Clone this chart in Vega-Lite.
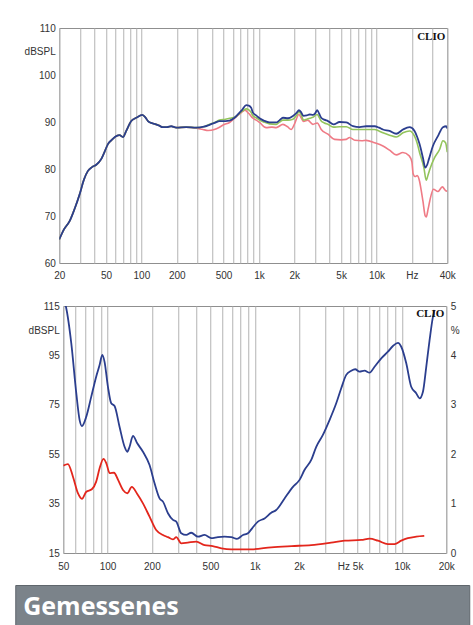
{
  "$schema": "https://vega.github.io/schema/vega-lite/v6.json",
  "background": "white",
  "padding": {"left": 14, "top": 22, "right": 0, "bottom": 0},
  "config": {
    "view": {"stroke": "#8f8f8f", "strokeWidth": 1},
    "axis": {"labelFont": "Liberation Sans", "labelFontSize": 10, "labelColor": "#333333", "gridColor": "#b3b3b3", "gridWidth": 1, "gridOpacity": 1, "domain": false, "ticks": false, "title": null, "labelOverlap": false, "labelFlush": false}
  },
  "datasets": {
    "top": [
      {"s": "blue", "f": 20, "v": 65.0}, {"s": "blue", "f": 22, "v": 67.2}, {"s": "blue", "f": 24.5, "v": 68.9}, {"s": "blue", "f": 27, "v": 71.5}, {"s": "blue", "f": 29.8, "v": 74.6}, {"s": "blue", "f": 32.5, "v": 77.8}, {"s": "blue", "f": 35.1, "v": 79.6}, {"s": "blue", "f": 38, "v": 80.4}, {"s": "blue", "f": 41.3, "v": 80.9}, {"s": "blue", "f": 45.5, "v": 82.1}, {"s": "blue", "f": 48.5, "v": 83.6}, {"s": "blue", "f": 51.9, "v": 85.3}, {"s": "blue", "f": 56, "v": 86.2}, {"s": "blue", "f": 61.1, "v": 87.0}, {"s": "blue", "f": 65.2, "v": 87.2}, {"s": "blue", "f": 69.7, "v": 86.8}, {"s": "blue", "f": 74.3, "v": 88.1}, {"s": "blue", "f": 82, "v": 90.2}, {"s": "blue", "f": 90.4, "v": 90.9}, {"s": "blue", "f": 101.7, "v": 91.5}, {"s": "blue", "f": 108, "v": 91.0}, {"s": "blue", "f": 113.7, "v": 90.2}, {"s": "blue", "f": 121, "v": 89.8}, {"s": "blue", "f": 129.4, "v": 89.6}, {"s": "blue", "f": 140, "v": 89.3}, {"s": "blue", "f": 152, "v": 88.9}, {"s": "blue", "f": 165, "v": 88.9}, {"s": "blue", "f": 179, "v": 89.1}, {"s": "blue", "f": 198, "v": 88.8}, {"s": "blue", "f": 240, "v": 88.9}, {"s": "blue", "f": 292.9, "v": 88.8},
      {"s": "blue", "f": 340, "v": 89.0}, {"s": "blue", "f": 380, "v": 89.4}, {"s": "blue", "f": 420, "v": 89.8}, {"s": "blue", "f": 462, "v": 90.2}, {"s": "blue", "f": 520, "v": 90.2}, {"s": "blue", "f": 562, "v": 90.3}, {"s": "blue", "f": 620, "v": 90.9}, {"s": "blue", "f": 662, "v": 91.6}, {"s": "blue", "f": 720, "v": 92.6}, {"s": "blue", "f": 780, "v": 93.6}, {"s": "blue", "f": 820, "v": 93.5}, {"s": "blue", "f": 860, "v": 93.0}, {"s": "blue", "f": 889, "v": 92.0}, {"s": "blue", "f": 948, "v": 91.4}, {"s": "blue", "f": 1012, "v": 90.8}, {"s": "blue", "f": 1100, "v": 90.3}, {"s": "blue", "f": 1230, "v": 89.9}, {"s": "blue", "f": 1403, "v": 89.9}, {"s": "blue", "f": 1500, "v": 90.4}, {"s": "blue", "f": 1600, "v": 90.9}, {"s": "blue", "f": 1766, "v": 90.8}, {"s": "blue", "f": 1946, "v": 91.3}, {"s": "blue", "f": 2100, "v": 92.0}, {"s": "blue", "f": 2188, "v": 92.5}, {"s": "blue", "f": 2280, "v": 92.1}, {"s": "blue", "f": 2394, "v": 91.3}, {"s": "blue", "f": 2550, "v": 91.4}, {"s": "blue", "f": 2696, "v": 91.6}, {"s": "blue", "f": 2878, "v": 91.5}, {"s": "blue", "f": 3000, "v": 91.8}, {"s": "blue", "f": 3133, "v": 92.5}, {"s": "blue", "f": 3250, "v": 91.8}, {"s": "blue", "f": 3388, "v": 90.9}, {"s": "blue", "f": 3600, "v": 90.5}, {"s": "blue", "f": 3862, "v": 90.2}, {"s": "blue", "f": 4315, "v": 89.5}, {"s": "blue", "f": 4853, "v": 90.0}, {"s": "blue", "f": 5535, "v": 89.9}, {"s": "blue", "f": 6311, "v": 89.1}, {"s": "blue", "f": 7185, "v": 88.9}, {"s": "blue", "f": 8185, "v": 89.1}, {"s": "blue", "f": 9638, "v": 89.1}, {"s": "blue", "f": 10500, "v": 88.8}, {"s": "blue", "f": 11350, "v": 88.4}, {"s": "blue", "f": 12920, "v": 88.1}, {"s": "blue", "f": 14730, "v": 87.5}, {"s": "blue", "f": 16790, "v": 88.4}, {"s": "blue", "f": 19100, "v": 88.9}, {"s": "blue", "f": 21080, "v": 88.1}, {"s": "blue", "f": 22200, "v": 86.8}, {"s": "blue", "f": 23250, "v": 85.3}, {"s": "blue", "f": 24830, "v": 82.4}, {"s": "blue", "f": 26000, "v": 80.3}, {"s": "blue", "f": 27000, "v": 80.9}, {"s": "blue", "f": 27920, "v": 82.1}, {"s": "blue", "f": 30200, "v": 84.9}, {"s": "blue", "f": 33320, "v": 87.0}, {"s": "blue", "f": 36750, "v": 88.9}, {"s": "blue", "f": 39250, "v": 89.1}, {"s": "blue", "f": 40000, "v": 88.6},
      {"s": "green", "f": 20, "v": 65.0}, {"s": "green", "f": 22, "v": 67.2}, {"s": "green", "f": 24.5, "v": 68.9}, {"s": "green", "f": 27, "v": 71.5}, {"s": "green", "f": 29.8, "v": 74.6}, {"s": "green", "f": 32.5, "v": 77.8}, {"s": "green", "f": 35.1, "v": 79.6}, {"s": "green", "f": 38, "v": 80.4}, {"s": "green", "f": 41.3, "v": 80.9}, {"s": "green", "f": 45.5, "v": 82.1}, {"s": "green", "f": 48.5, "v": 83.6}, {"s": "green", "f": 51.9, "v": 85.3}, {"s": "green", "f": 56, "v": 86.2}, {"s": "green", "f": 61.1, "v": 87.0}, {"s": "green", "f": 65.2, "v": 87.2}, {"s": "green", "f": 69.7, "v": 86.8}, {"s": "green", "f": 74.3, "v": 88.1}, {"s": "green", "f": 82, "v": 90.2}, {"s": "green", "f": 90.4, "v": 90.9}, {"s": "green", "f": 101.7, "v": 91.5}, {"s": "green", "f": 108, "v": 91.0}, {"s": "green", "f": 113.7, "v": 90.2}, {"s": "green", "f": 121, "v": 89.8}, {"s": "green", "f": 129.4, "v": 89.6}, {"s": "green", "f": 140, "v": 89.3}, {"s": "green", "f": 152, "v": 88.9}, {"s": "green", "f": 165, "v": 88.9}, {"s": "green", "f": 179, "v": 89.1}, {"s": "green", "f": 198, "v": 88.8}, {"s": "green", "f": 240, "v": 88.9}, {"s": "green", "f": 292.9, "v": 88.8},
      {"s": "green", "f": 340, "v": 89.0}, {"s": "green", "f": 380, "v": 89.5}, {"s": "green", "f": 420, "v": 89.9}, {"s": "green", "f": 462, "v": 90.4}, {"s": "green", "f": 520, "v": 90.6}, {"s": "green", "f": 562, "v": 90.8}, {"s": "green", "f": 620, "v": 91.0}, {"s": "green", "f": 662, "v": 91.5}, {"s": "green", "f": 720, "v": 92.3}, {"s": "green", "f": 780, "v": 92.8}, {"s": "green", "f": 820, "v": 92.6}, {"s": "green", "f": 860, "v": 92.0}, {"s": "green", "f": 889, "v": 91.3}, {"s": "green", "f": 948, "v": 90.9}, {"s": "green", "f": 1012, "v": 90.4}, {"s": "green", "f": 1100, "v": 90.0}, {"s": "green", "f": 1230, "v": 89.6}, {"s": "green", "f": 1403, "v": 89.5}, {"s": "green", "f": 1500, "v": 90.0}, {"s": "green", "f": 1600, "v": 90.4}, {"s": "green", "f": 1766, "v": 90.4}, {"s": "green", "f": 1946, "v": 90.6}, {"s": "green", "f": 2100, "v": 91.5}, {"s": "green", "f": 2188, "v": 92.2}, {"s": "green", "f": 2280, "v": 91.6}, {"s": "green", "f": 2394, "v": 90.4}, {"s": "green", "f": 2550, "v": 90.6}, {"s": "green", "f": 2696, "v": 90.8}, {"s": "green", "f": 2878, "v": 91.0}, {"s": "green", "f": 3133, "v": 91.6}, {"s": "green", "f": 3250, "v": 91.0}, {"s": "green", "f": 3388, "v": 90.2}, {"s": "green", "f": 3600, "v": 89.8}, {"s": "green", "f": 3862, "v": 89.5}, {"s": "green", "f": 4315, "v": 88.9}, {"s": "green", "f": 4853, "v": 89.0}, {"s": "green", "f": 5535, "v": 89.0}, {"s": "green", "f": 6311, "v": 88.4}, {"s": "green", "f": 7185, "v": 88.4}, {"s": "green", "f": 8185, "v": 88.4}, {"s": "green", "f": 9638, "v": 88.4}, {"s": "green", "f": 10500, "v": 88.1}, {"s": "green", "f": 11350, "v": 87.7}, {"s": "green", "f": 12920, "v": 87.2}, {"s": "green", "f": 14730, "v": 86.8}, {"s": "green", "f": 16790, "v": 87.7}, {"s": "green", "f": 19100, "v": 88.1}, {"s": "green", "f": 21080, "v": 87.0}, {"s": "green", "f": 22200, "v": 85.5}, {"s": "green", "f": 23250, "v": 83.5}, {"s": "green", "f": 25300, "v": 80.3}, {"s": "green", "f": 26500, "v": 77.6}, {"s": "green", "f": 27500, "v": 78.8}, {"s": "green", "f": 28400, "v": 79.9}, {"s": "green", "f": 31200, "v": 82.4}, {"s": "green", "f": 34500, "v": 84.2}, {"s": "green", "f": 36750, "v": 86.0}, {"s": "green", "f": 38700, "v": 85.6}, {"s": "green", "f": 40000, "v": 83.6},
      {"s": "pink", "f": 20, "v": 65.0}, {"s": "pink", "f": 22, "v": 67.2}, {"s": "pink", "f": 24.5, "v": 68.9}, {"s": "pink", "f": 27, "v": 71.5}, {"s": "pink", "f": 29.8, "v": 74.6}, {"s": "pink", "f": 32.5, "v": 77.8}, {"s": "pink", "f": 35.1, "v": 79.6}, {"s": "pink", "f": 38, "v": 80.4}, {"s": "pink", "f": 41.3, "v": 80.9}, {"s": "pink", "f": 45.5, "v": 82.1}, {"s": "pink", "f": 48.5, "v": 83.6}, {"s": "pink", "f": 51.9, "v": 85.3}, {"s": "pink", "f": 56, "v": 86.2}, {"s": "pink", "f": 61.1, "v": 87.0}, {"s": "pink", "f": 65.2, "v": 87.2}, {"s": "pink", "f": 69.7, "v": 86.8}, {"s": "pink", "f": 74.3, "v": 88.1}, {"s": "pink", "f": 82, "v": 90.2}, {"s": "pink", "f": 90.4, "v": 90.9}, {"s": "pink", "f": 101.7, "v": 91.5}, {"s": "pink", "f": 108, "v": 91.0}, {"s": "pink", "f": 113.7, "v": 90.2}, {"s": "pink", "f": 121, "v": 89.8}, {"s": "pink", "f": 129.4, "v": 89.6}, {"s": "pink", "f": 140, "v": 89.3}, {"s": "pink", "f": 152, "v": 88.9}, {"s": "pink", "f": 165, "v": 88.9}, {"s": "pink", "f": 179, "v": 89.1}, {"s": "pink", "f": 198, "v": 88.8}, {"s": "pink", "f": 240, "v": 88.9}, {"s": "pink", "f": 292.9, "v": 88.7},
      {"s": "pink", "f": 334, "v": 88.4}, {"s": "pink", "f": 369, "v": 88.2}, {"s": "pink", "f": 417, "v": 88.4}, {"s": "pink", "f": 462, "v": 88.9}, {"s": "pink", "f": 500, "v": 89.4}, {"s": "pink", "f": 562, "v": 89.9}, {"s": "pink", "f": 640, "v": 91.1}, {"s": "pink", "f": 700, "v": 91.9}, {"s": "pink", "f": 760, "v": 92.5}, {"s": "pink", "f": 820, "v": 91.8}, {"s": "pink", "f": 889, "v": 90.8}, {"s": "pink", "f": 948, "v": 90.4}, {"s": "pink", "f": 1012, "v": 89.9}, {"s": "pink", "f": 1150, "v": 88.8}, {"s": "pink", "f": 1290, "v": 88.9}, {"s": "pink", "f": 1403, "v": 88.8}, {"s": "pink", "f": 1600, "v": 89.5}, {"s": "pink", "f": 1750, "v": 89.0}, {"s": "pink", "f": 1880, "v": 88.4}, {"s": "pink", "f": 2000, "v": 89.5}, {"s": "pink", "f": 2188, "v": 91.6}, {"s": "pink", "f": 2300, "v": 90.8}, {"s": "pink", "f": 2394, "v": 90.1}, {"s": "pink", "f": 2600, "v": 90.4}, {"s": "pink", "f": 2878, "v": 89.5}, {"s": "pink", "f": 3133, "v": 89.8}, {"s": "pink", "f": 3388, "v": 88.4}, {"s": "pink", "f": 3862, "v": 87.4}, {"s": "pink", "f": 4400, "v": 86.3}, {"s": "pink", "f": 5000, "v": 86.2}, {"s": "pink", "f": 5535, "v": 86.3}, {"s": "pink", "f": 5900, "v": 86.7}, {"s": "pink", "f": 6550, "v": 86.1}, {"s": "pink", "f": 7500, "v": 86.0}, {"s": "pink", "f": 8185, "v": 86.1}, {"s": "pink", "f": 9638, "v": 85.6}, {"s": "pink", "f": 11350, "v": 84.9}, {"s": "pink", "f": 12920, "v": 84.0}, {"s": "pink", "f": 14730, "v": 83.0}, {"s": "pink", "f": 16790, "v": 83.5}, {"s": "pink", "f": 19000, "v": 82.8}, {"s": "pink", "f": 20000, "v": 81.5}, {"s": "pink", "f": 20500, "v": 79.0}, {"s": "pink", "f": 21300, "v": 78.4}, {"s": "pink", "f": 22200, "v": 78.6}, {"s": "pink", "f": 23250, "v": 77.4}, {"s": "pink", "f": 24000, "v": 75.5}, {"s": "pink", "f": 24830, "v": 73.2}, {"s": "pink", "f": 26000, "v": 70.0}, {"s": "pink", "f": 26500, "v": 69.8}, {"s": "pink", "f": 27500, "v": 71.5}, {"s": "pink", "f": 28400, "v": 73.2}, {"s": "pink", "f": 30500, "v": 75.7}, {"s": "pink", "f": 33320, "v": 75.2}, {"s": "pink", "f": 36300, "v": 76.2}, {"s": "pink", "f": 39250, "v": 75.3}, {"s": "pink", "f": 40000, "v": 75.4},
      {"s": "label", "f": 40000, "v": 110, "t": "CLIO"}
    ],
    "bottom": [
      {"s": "blue", "f": 51.5, "v": 116}, {"s": "blue", "f": 52.4, "v": 114.1}, {"s": "blue", "f": 56.7, "v": 99.9}, {"s": "blue", "f": 61.3, "v": 79.7}, {"s": "blue", "f": 64.6, "v": 68.8}, {"s": "blue", "f": 67, "v": 66.4}, {"s": "blue", "f": 71.7, "v": 70.2}, {"s": "blue", "f": 77.5, "v": 78.3}, {"s": "blue", "f": 83.7, "v": 86.4}, {"s": "blue", "f": 88.3, "v": 91.1}, {"s": "blue", "f": 92.1, "v": 95.2}, {"s": "blue", "f": 95.4, "v": 92.4}, {"s": "blue", "f": 100.6, "v": 82.3}, {"s": "blue", "f": 105.9, "v": 75.6}, {"s": "blue", "f": 111.6, "v": 74.5}, {"s": "blue", "f": 120.6, "v": 66.1}, {"s": "blue", "f": 130.5, "v": 58.0}, {"s": "blue", "f": 136.1, "v": 56.0}, {"s": "blue", "f": 141.1, "v": 58.0}, {"s": "blue", "f": 148.8, "v": 62.4}, {"s": "blue", "f": 159.1, "v": 59.4}, {"s": "blue", "f": 174, "v": 56.0}, {"s": "blue", "f": 192.9, "v": 50.6}, {"s": "blue", "f": 208.6, "v": 43.2}, {"s": "blue", "f": 225.6, "v": 37.1}, {"s": "blue", "f": 237.9, "v": 35.8}, {"s": "blue", "f": 257.2, "v": 31.1}, {"s": "blue", "f": 278.2, "v": 28.4}, {"s": "blue", "f": 292.9, "v": 27.7}, {"s": "blue", "f": 316.7, "v": 23.0}, {"s": "blue", "f": 342.5, "v": 22.3}, {"s": "blue", "f": 370.2, "v": 23.2}, {"s": "blue", "f": 411.4, "v": 21.6}, {"s": "blue", "f": 456, "v": 22.3}, {"s": "blue", "f": 506, "v": 21.0}, {"s": "blue", "f": 562, "v": 21.4}, {"s": "blue", "f": 623.6, "v": 21.6}, {"s": "blue", "f": 692.5, "v": 21.4}, {"s": "blue", "f": 757, "v": 20.7}, {"s": "blue", "f": 832, "v": 22.3}, {"s": "blue", "f": 899, "v": 23.0}, {"s": "blue", "f": 960, "v": 25.0}, {"s": "blue", "f": 1051, "v": 27.7}, {"s": "blue", "f": 1166, "v": 29.0}, {"s": "blue", "f": 1294, "v": 31.3}, {"s": "blue", "f": 1399, "v": 32.4}, {"s": "blue", "f": 1594, "v": 37.1}, {"s": "blue", "f": 1818, "v": 41.8}, {"s": "blue", "f": 2015, "v": 44.6}, {"s": "blue", "f": 2177, "v": 48.6}, {"s": "blue", "f": 2420, "v": 52.7}, {"s": "blue", "f": 2617, "v": 58.0}, {"s": "blue", "f": 2904, "v": 62.8}, {"s": "blue", "f": 3221, "v": 68.8}, {"s": "blue", "f": 3577, "v": 75.6}, {"s": "blue", "f": 3869, "v": 81.7}, {"s": "blue", "f": 4184, "v": 87.1}, {"s": "blue", "f": 4524, "v": 88.8}, {"s": "blue", "f": 4815, "v": 89.4}, {"s": "blue", "f": 5150, "v": 88.4}, {"s": "blue", "f": 5570, "v": 88.8}, {"s": "blue", "f": 6025, "v": 88.0}, {"s": "blue", "f": 6515, "v": 90.4}, {"s": "blue", "f": 7237, "v": 93.8}, {"s": "blue", "f": 8034, "v": 96.5}, {"s": "blue", "f": 8689, "v": 98.8}, {"s": "blue", "f": 9397, "v": 100.1}, {"s": "blue", "f": 9892, "v": 98.5}, {"s": "blue", "f": 10700, "v": 91.8}, {"s": "blue", "f": 11560, "v": 82.3}, {"s": "blue", "f": 12500, "v": 79.7}, {"s": "blue", "f": 13180, "v": 77.6}, {"s": "blue", "f": 13890, "v": 80.3}, {"s": "blue", "f": 14630, "v": 90.4}, {"s": "blue", "f": 15410, "v": 101.2}, {"s": "blue", "f": 16250, "v": 110.7}, {"s": "blue", "f": 16660, "v": 113.4},
      {"s": "red", "f": 50, "v": 50.4}, {"s": "red", "f": 53.8, "v": 51.0}, {"s": "red", "f": 58.2, "v": 45.9}, {"s": "red", "f": 62.9, "v": 39.2}, {"s": "red", "f": 67, "v": 36.9}, {"s": "red", "f": 71.7, "v": 39.8}, {"s": "red", "f": 78.2, "v": 40.8}, {"s": "red", "f": 83.7, "v": 43.9}, {"s": "red", "f": 88.3, "v": 49.3}, {"s": "red", "f": 93.8, "v": 53.1}, {"s": "red", "f": 98.1, "v": 51.3}, {"s": "red", "f": 103.4, "v": 47.3}, {"s": "red", "f": 110.6, "v": 47.5}, {"s": "red", "f": 117.9, "v": 44.6}, {"s": "red", "f": 127.3, "v": 40.5}, {"s": "red", "f": 136.1, "v": 39.2}, {"s": "red", "f": 146, "v": 41.8}, {"s": "red", "f": 159.1, "v": 38.9}, {"s": "red", "f": 174, "v": 35.1}, {"s": "red", "f": 192.9, "v": 29.7}, {"s": "red", "f": 214, "v": 24.3}, {"s": "red", "f": 237.9, "v": 22.3}, {"s": "red", "f": 257, "v": 21.4}, {"s": "red", "f": 278, "v": 20.5}, {"s": "red", "f": 293, "v": 21.4}, {"s": "red", "f": 317, "v": 18.9}, {"s": "red", "f": 351, "v": 19.2}, {"s": "red", "f": 400, "v": 19.6}, {"s": "red", "f": 456, "v": 18.2}, {"s": "red", "f": 518, "v": 17.8}, {"s": "red", "f": 594, "v": 16.9}, {"s": "red", "f": 692, "v": 16.5}, {"s": "red", "f": 808, "v": 16.5}, {"s": "red", "f": 947, "v": 16.5}, {"s": "red", "f": 1294, "v": 17.3}, {"s": "red", "f": 1780, "v": 17.8}, {"s": "red", "f": 2420, "v": 18.2}, {"s": "red", "f": 3300, "v": 19.2}, {"s": "red", "f": 4080, "v": 20.0}, {"s": "red", "f": 5300, "v": 20.3}, {"s": "red", "f": 6025, "v": 20.8}, {"s": "red", "f": 6870, "v": 20.0}, {"s": "red", "f": 8034, "v": 18.6}, {"s": "red", "f": 8900, "v": 18.6}, {"s": "red", "f": 9892, "v": 20.0}, {"s": "red", "f": 10960, "v": 21.0}, {"s": "red", "f": 12500, "v": 21.6}, {"s": "red", "f": 14180, "v": 21.9},
      {"s": "label", "f": 20000, "v": 115, "t": "CLIO"}
    ],
    "footer": [{"label": "Gemessenes"}]
  },
  "spacing": 7,
  "center": true,
  "vconcat": [
    {
      "width": 388,
      "height": 235,
      "data": {"name": "top"},
      "encoding": {
        "x": {"field": "f", "type": "quantitative", "scale": {"type": "log", "domain": [20, 40000], "nice": false},
          "axis": {"values": [20,30,40,50,60,70,80,90,100,200,300,400,500,600,700,800,900,1000,2000,3000,4000,5000,6000,7000,8000,9000,10000,20000,30000,40000],
            "labelExpr": "datum.value==20?'20':datum.value==50?'50':datum.value==100?'100':datum.value==200?'200':datum.value==500?'500':datum.value==1000?'1k':datum.value==2000?'2k':datum.value==5000?'5k':datum.value==10000?'10k':datum.value==20000?'Hz':datum.value==40000?'40k':''",
            "labelPadding": 7, "minExtent": 29, "maxExtent": 29}},
        "y": {"field": "v", "type": "quantitative", "scale": {"domain": [60, 110], "nice": false, "zero": false}}
      },
      "resolve": {"axis": {"y": "independent"}},
      "layer": [
        {"transform": [{"filter": "datum.s=='pink'"}], "mark": {"type": "line", "color": "#ef7b86", "strokeWidth": 1.6, "interpolate": "monotone", "clip": true},
          "encoding": {"y": {"field": "v", "type": "quantitative", "axis": {"orient": "right", "grid": false, "labels": false, "minExtent": 22, "maxExtent": 22}}}},
        {"transform": [{"filter": "datum.s=='green'"}], "mark": {"type": "line", "color": "#93c45c", "strokeWidth": 1.6, "interpolate": "monotone", "clip": true},
          "encoding": {"y": {"field": "v", "type": "quantitative", "axis": null}}},
        {"transform": [{"filter": "datum.s=='blue'"}], "mark": {"type": "line", "color": "#2b3e8e", "strokeWidth": 1.8, "interpolate": "monotone", "clip": true},
          "encoding": {"y": {"field": "v", "type": "quantitative", "axis": {"orient": "left", "values": [60,65,70,75,80,85,90,95,100,105,110], "labelExpr": "datum.value%10==0?datum.label:datum.value==105?'dBSPL':''", "labelPadding": 4, "minExtent": 44, "maxExtent": 44}}}},
        {"transform": [{"filter": "datum.s=='label'"}], "mark": {"type": "text", "font": "Liberation Serif", "fontWeight": "bold", "fontSize": 11, "color": "#111111", "align": "right", "baseline": "top", "dx": -2, "dy": 3},
          "encoding": {"y": {"field": "v", "type": "quantitative", "axis": null}, "text": {"field": "t", "type": "nominal"}}}
      ]
    },
    {
      "width": 383,
      "height": 247,
      "data": {"name": "bottom"},
      "encoding": {
        "x": {"field": "f", "type": "quantitative", "scale": {"type": "log", "domain": [50, 20000], "nice": false},
          "axis": {"values": [50,60,70,80,90,100,200,300,400,500,600,700,800,900,1000,2000,3000,4000,5000,6000,7000,8000,9000,10000,20000],
            "labelExpr": "datum.value==50?'50':datum.value==100?'100':datum.value==200?'200':datum.value==500?'500':datum.value==1000?'1k':datum.value==2000?'2k':datum.value==4000?'Hz':datum.value==5000?'5k':datum.value==10000?'10k':datum.value==20000?'20k':''",
            "labelPadding": 8, "minExtent": 23, "maxExtent": 23}},
        "y": {"field": "v", "type": "quantitative", "scale": {"domain": [15, 115], "nice": false, "zero": false}}
      },
      "resolve": {"axis": {"y": "independent"}},
      "layer": [
        {"transform": [{"filter": "datum.s=='red'"}], "mark": {"type": "line", "color": "#e3261c", "strokeWidth": 1.8, "interpolate": "monotone", "clip": true},
          "encoding": {"y": {"field": "v", "type": "quantitative", "axis": {"orient": "right", "grid": false, "values": [15,25,35,45,55,65,75,85,95,105,115], "labelExpr": "datum.value==105?'%':(datum.value-15)%20==0?format((datum.value-15)/20,'d'):''", "labelPadding": 4, "minExtent": 19, "maxExtent": 19}}}},
        {"transform": [{"filter": "datum.s=='blue'"}], "mark": {"type": "line", "color": "#2b3e8e", "strokeWidth": 1.8, "interpolate": "monotone", "clip": true},
          "encoding": {"y": {"field": "v", "type": "quantitative", "axis": {"orient": "left", "values": [15,25,35,45,55,65,75,85,95,105,115], "labelExpr": "datum.value==105?'dBSPL':(datum.value-15)%20==0?datum.label:''", "labelPadding": 4, "minExtent": 48, "maxExtent": 48}}}},
        {"transform": [{"filter": "datum.s=='label'"}], "mark": {"type": "text", "font": "Liberation Serif", "fontWeight": "bold", "fontSize": 11, "color": "#111111", "align": "right", "baseline": "top", "dx": -2, "dy": 2},
          "encoding": {"y": {"field": "v", "type": "quantitative", "axis": null}, "text": {"field": "t", "type": "nominal"}}}
      ]
    },
    {
      "width": 454,
      "height": 42,
      "view": {"fill": "#7b838a", "stroke": "#5f666c"},
      "data": {"name": "footer"},
      "mark": {"type": "text", "font": "Open Sans", "fontWeight": "bold", "fontSize": 25, "color": "white", "align": "left", "baseline": "alphabetic", "dx": 8, "dy": -12},
      "encoding": {
        "x": {"datum": 0, "type": "quantitative", "scale": {"domain": [0, 1]}, "axis": null},
        "y": {"datum": 0, "type": "quantitative", "scale": {"domain": [0, 1]}, "axis": {"orient": "right", "labels": false, "grid": false, "minExtent": 44, "maxExtent": 44}},
        "text": {"field": "label", "type": "nominal"}
      }
    }
  ]
}
